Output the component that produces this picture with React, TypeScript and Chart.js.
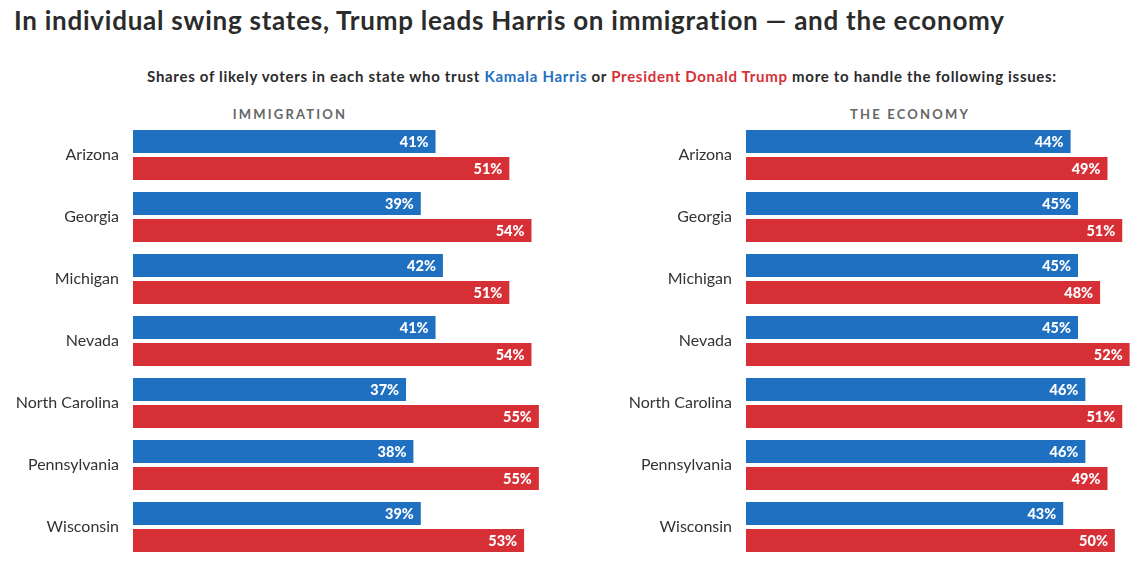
import React, { useEffect, useRef } from "react";
import { Chart, registerables } from "chart.js";
Chart.register(...registerables);

const states = ["Arizona", "Georgia", "Michigan", "Nevada", "North Carolina", "Pennsylvania", "Wisconsin"];
const immigrationHarris = [41, 39, 42, 41, 37, 38, 39];
const immigrationTrump = [51, 54, 51, 54, 55, 55, 53];
const economyHarris = [44, 45, 45, 45, 46, 46, 43];
const economyTrump = [49, 51, 48, 52, 51, 49, 50];

const BLUE = "#1F70C1";
const RED = "#D63036";
const FONT = "Lato, 'Open Sans', sans-serif";

const valueLabels = {
  id: "valueLabels",
  afterDatasetsDraw(chart: any) {
    const ctx = chart.ctx;
    ctx.save();
    ctx.fillStyle = "#ffffff";
    ctx.font = `900 14.5px ${FONT}`;
    ctx.textAlign = "right";
    ctx.textBaseline = "middle";
    chart.data.datasets.forEach((ds: any, di: number) => {
      const meta = chart.getDatasetMeta(di);
      meta.data.forEach((bar: any, i: number) => {
        ctx.fillText(`${ds.data[i]}%`, bar.x - 7, bar.y + 1);
      });
    });
    ctx.restore();
  },
};

function Panel(props: { harris: number[]; trump: number[]; xMax: number; axisWidth: number; width: number; height: number }) {
  const ref = useRef<HTMLCanvasElement>(null);
  useEffect(() => {
    const chart = new Chart(ref.current as HTMLCanvasElement, {
      type: "bar",
      data: {
        labels: states,
        datasets: [
          { label: "Harris", data: props.harris, backgroundColor: BLUE, categoryPercentage: 0.871, barPercentage: 0.852 },
          { label: "Trump", data: props.trump, backgroundColor: RED, categoryPercentage: 0.871, barPercentage: 0.852 },
        ],
      },
      options: {
        indexAxis: "y",
        responsive: false,
        animation: false,
        layout: { padding: 0 },
        plugins: { legend: { display: false }, tooltip: { enabled: false }, title: { display: false } },
        scales: {
          x: { display: false, min: 0, max: props.xMax },
          y: {
            grid: { display: false, drawTicks: false },
            border: { display: false },
            ticks: { padding: 14, color: "#333333", font: { family: FONT, size: 16 } },
            afterFit: (s: any) => {
              s.width = props.axisWidth;
              s.paddingTop = 0;
              s.paddingBottom = 0;
            },
          },
        },
      },
      plugins: [valueLabels],
    } as any);
    return () => chart.destroy();
  }, []);
  return <canvas ref={ref} width={props.width} height={props.height} style={{ display: "block" }} />;
}

export default function App() {
  return (
    <div style={{ position: "fixed", left: 0, top: 0, width: 1146, height: 575, background: "#fff", fontFamily: FONT, overflow: "hidden" }}>
      <div style={{ position: "absolute", left: 14, top: 4, fontSize: 26, letterSpacing: 0.75, fontWeight: 700, color: "#2b2b2b", whiteSpace: "nowrap" }}>
        In individual swing states, Trump leads Harris on immigration — and the economy
      </div>
      <div style={{ position: "absolute", left: 0, width: 1204, top: 67, textAlign: "center", fontSize: 15, letterSpacing: 0.7, fontWeight: 700, color: "#2b2b2b", whiteSpace: "nowrap" }}>
        Shares of likely voters in each state who trust <span style={{ color: BLUE }}>Kamala Harris</span> or{" "}
        <span style={{ color: RED }}>President Donald Trump</span> more to handle the following issues:
      </div>
      <div style={{ position: "absolute", left: 190, width: 200, top: 106, textAlign: "center", fontSize: 13, fontWeight: 700, letterSpacing: 2.2, color: "#666666" }}>
        IMMIGRATION
      </div>
      <div style={{ position: "absolute", left: 810, width: 200, top: 106, textAlign: "center", fontSize: 13, fontWeight: 700, letterSpacing: 2.2, color: "#666666" }}>
        THE ECONOMY
      </div>
      <div style={{ position: "absolute", left: 0, top: 124 }}>
        <Panel harris={immigrationHarris} trump={immigrationTrump} xMax={58} axisWidth={133} width={561} height={434} />
      </div>
      <div style={{ position: "absolute", left: 573, top: 124 }}>
        <Panel harris={economyHarris} trump={economyTrump} xMax={53} axisWidth={173} width={564} height={434} />
      </div>
    </div>
  );
}
